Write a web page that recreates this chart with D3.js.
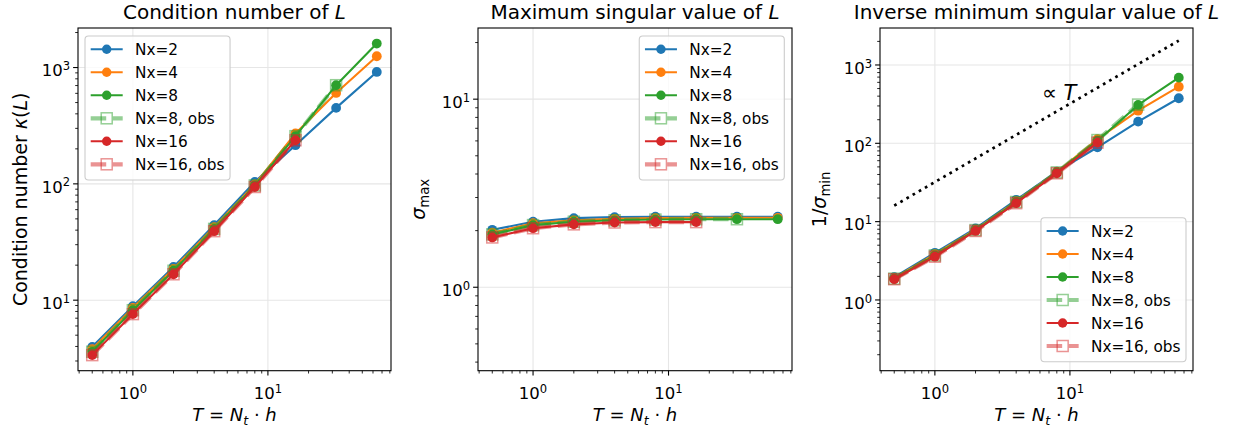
<!DOCTYPE html>
<html><head><meta charset="utf-8">
<script src="https://cdn.jsdelivr.net/npm/d3@7"></script>
<style>body{margin:0;background:#fff} svg{display:block} text{font-family:"DejaVu Sans",sans-serif;fill:#000}</style>
</head><body><svg id="c" width="1236" height="433"></svg>
<script>
// ---------------- data ----------------
const T = [0.5, 1, 2, 4, 8, 16, 32, 64];
const seriesLabels = ["Nx=2", "Nx=4", "Nx=8", "Nx=8, obs", "Nx=16", "Nx=16, obs"];
const seriesColors = ["#1f77b4", "#ff7f0e", "#2ca02c", "#2ca02c", "#d62728", "#d62728"];
const seriesIsObs  = [false, false, false, true, false, true];

// Panel 1: condition number kappa(L)
const kappaNx2     = [3.97, 8.88, 19.3, 44.2, 104, 215, 450, 916];
const kappaNx4     = [3.80, 8.60, 18.6, 42.5, 99, 271, 605, 1250];
const kappaNx8     = [3.60, 8.20, 17.9, 41.0, 97, 257, 705, 1607];
const kappaNx8obs  = [3.60, 8.20, 17.9, 41.0, 97, 257, 705];
const kappaNx16    = [3.37, 7.59, 16.7, 39.2, 94, 237];
const kappaNx16obs = [3.37, 7.59, 16.7, 39.2, 94, 237];

// Panel 2: sigma_max
const sigmaMaxNx2     = [2.02, 2.23, 2.33, 2.36, 2.37, 2.37, 2.37, 2.37];
const sigmaMaxNx4     = [1.95, 2.19, 2.27, 2.31, 2.33, 2.34, 2.34, 2.34];
const sigmaMaxNx8     = [1.91, 2.14, 2.23, 2.27, 2.29, 2.30, 2.30, 2.30];
const sigmaMaxNx8obs  = [1.91, 2.14, 2.23, 2.27, 2.29, 2.30, 2.30];
const sigmaMaxNx16    = [1.84, 2.06, 2.16, 2.21, 2.22, 2.22];
const sigmaMaxNx16obs = [1.84, 2.06, 2.16, 2.21, 2.22, 2.22];

// Panel 3: 1/sigma_min
const invMinNx2     = [1.95, 4.00, 8.2, 19.0, 43.5, 89, 189, 376];
const invMinNx4     = [1.90, 3.85, 7.9, 18.2, 43.0, 113, 261, 528];
const invMinNx8     = [1.87, 3.70, 7.8, 17.8, 42.5, 108, 309, 689];
const invMinNx8obs  = [1.87, 3.70, 7.8, 17.8, 42.5, 110, 312];
const invMinNx16    = [1.84, 3.57, 7.6, 17.2, 41.4, 102];
const invMinNx16obs = [1.84, 3.57, 7.6, 17.2, 41.4, 102];

// reference slope line (proportional to T)
const propLineT = [0.5, 64];
const propLineV = [16, 2048];
const propLabelT = 6.2, propLabelV = 360;

// axis limits set in the original for panels 2 and 3
const yLimSigma = [0.36, 23.9];
const yLimInv   = [0.125, 2965];

const titles = ["Condition number of ", "Maximum singular value of ", "Inverse minimum singular value of "];

// ---------------- layout ----------------
const svg = d3.select("#c");
const TOP = 28, BOT = 370.7;
const FONT = '"DejaVu Sans", sans-serif';
const TICKFS = 16.5, LEGFS = 15.3, TITLEFS = 20, LABFS = 19;

function logPad(vals) {
  const lo = Math.log10(d3.min(vals)), hi = Math.log10(d3.max(vals));
  const m = (hi - lo) * 0.05;
  return [Math.pow(10, lo - m), Math.pow(10, hi + m)];
}
const xDomain = logPad(T);

function rich(sel, parts, fs) {
  parts.forEach(p => {
    const ts = sel.append("tspan").text(p.t);
    if (p.it) ts.attr("font-style", "italic");
    if (p.sub) ts.attr("font-size", fs * 0.7).attr("dy", fs * 0.22);
    if (p.back) ts.attr("dy", -fs * 0.22);
  });
}

function drawPanel(cfg) {
  const g = svg.append("g");
  const x = d3.scaleLog().domain(xDomain).range([cfg.left, cfg.right]);
  const y = d3.scaleLog().domain(cfg.yDomain).range([BOT, TOP]);
  const [x0, x1] = x.domain(), [y0, y1] = y.domain();

  const decades = (a, b) => d3.range(Math.ceil(Math.log10(a) - 1e-9), Math.floor(Math.log10(b) + 1e-9) + 1);
  const minors = (a, b) => {
    const out = [];
    for (let k = Math.floor(Math.log10(a)) - 1; k <= Math.ceil(Math.log10(b)); k++)
      for (let m = 2; m <= 9; m++) { const v = m * Math.pow(10, k); if (v >= a * 0.999 && v <= b * 1.001) out.push(v); }
    return out;
  };
  const xMaj = decades(x0, x1), yMaj = decades(y0, y1);

  // grid
  const grid = g.append("g").attr("stroke", "#e6e6e6").attr("stroke-width", 1.1);
  xMaj.forEach(k => grid.append("line").attr("x1", x(10 ** k)).attr("x2", x(10 ** k)).attr("y1", TOP).attr("y2", BOT));
  yMaj.forEach(k => grid.append("line").attr("y1", y(10 ** k)).attr("y2", y(10 ** k)).attr("x1", cfg.left).attr("x2", cfg.right));

  // clip
  const cid = "clip" + cfg.id;
  svg.append("clipPath").attr("id", cid).append("rect")
    .attr("x", cfg.left).attr("y", TOP).attr("width", cfg.right - cfg.left).attr("height", BOT - TOP);
  const plot = g.append("g").attr("clip-path", `url(#${cid})`);

  if (cfg.prop) {
    plot.append("path")
      .attr("d", d3.line().x((d, i) => x(propLineT[i])).y(d => y(d))(propLineV))
      .attr("fill", "none").attr("stroke", "#000").attr("stroke-width", 2.7)
      .attr("stroke-dasharray", "2.7,4.4");
  }

  cfg.series.forEach((vals, si) => {
    const col = seriesColors[si];
    const obs = seriesIsObs[si];
    const pts = vals.map((v, i) => [T[i], v]);
    const line = d3.line().x(d => x(d[0])).y(d => y(d[1]));
    const sg = plot.append("g");
    sg.append("path").attr("d", line(pts)).attr("fill", "none")
      .attr("stroke", col).attr("stroke-width", obs ? 4.2 : 2.1)
      .attr("stroke-opacity", obs ? 0.5 : 1)
      .attr("stroke-linejoin", "round")
      .attr("stroke-dasharray", obs ? "15.5,6.7" : null);
    if (obs) {
      sg.selectAll("rect").data(pts).join("rect")
        .attr("x", d => x(d[0]) - 5.5).attr("y", d => y(d[1]) - 5.5)
        .attr("width", 11).attr("height", 11)
        .attr("fill", "none").attr("stroke", col).attr("stroke-width", 1.5).attr("stroke-opacity", 0.5);
    } else {
      sg.selectAll("circle").data(pts).join("circle")
        .attr("cx", d => x(d[0])).attr("cy", d => y(d[1])).attr("r", 4.9)
        .attr("fill", col);
    }
  });

  // spines
  g.append("rect").attr("x", cfg.left).attr("y", TOP).attr("width", cfg.right - cfg.left).attr("height", BOT - TOP)
    .attr("fill", "none").attr("stroke", "#000").attr("stroke-width", 1.1);

  // ticks
  const tk = g.append("g").attr("stroke", "#000");
  xMaj.forEach(k => tk.append("line").attr("x1", x(10 ** k)).attr("x2", x(10 ** k)).attr("y1", BOT).attr("y2", BOT + 4.9).attr("stroke-width", 1.1));
  minors(x0, x1).forEach(v => tk.append("line").attr("x1", x(v)).attr("x2", x(v)).attr("y1", BOT).attr("y2", BOT + 2.8).attr("stroke-width", 0.85));
  yMaj.forEach(k => tk.append("line").attr("y1", y(10 ** k)).attr("y2", y(10 ** k)).attr("x1", cfg.left).attr("x2", cfg.left - 4.9).attr("stroke-width", 1.1));
  minors(y0, y1).forEach(v => tk.append("line").attr("y1", y(v)).attr("y2", y(v)).attr("x1", cfg.left).attr("x2", cfg.left - 2.8).attr("stroke-width", 0.85));

  const supLabel = (sel, k) => {
    sel.append("tspan").text("10");
    sel.append("tspan").text(String(k)).attr("font-size", TICKFS * 0.7).attr("dy", -6.2);
  };
  xMaj.forEach(k => {
    const t = g.append("text").attr("x", x(10 ** k)).attr("y", BOT + 28.3).attr("text-anchor", "middle").attr("font-size", TICKFS);
    supLabel(t, k);
  });
  yMaj.forEach(k => {
    const t = g.append("text").attr("x", cfg.left - 8).attr("y", y(10 ** k) + 8.8).attr("text-anchor", "end").attr("font-size", TICKFS);
    supLabel(t, k);
  });

  // title
  const tt = g.append("text").attr("x", (cfg.left + cfg.right) / 2).attr("y", 19).attr("text-anchor", "middle").attr("font-size", TITLEFS);
  rich(tt, [{ t: titles[cfg.id] }, { t: "L", it: true }], TITLEFS);

  // x label
  const xl = g.append("text").attr("x", (cfg.left + cfg.right) / 2).attr("y", 421).attr("text-anchor", "middle").attr("font-size", 18);
  rich(xl, [{ t: "T", it: true }, { t: " = " }, { t: "N", it: true }, { t: "t", it: true, sub: true }, { t: " · ", back: true }, { t: "h", it: true }], 18);

  // y label
  const yl = g.append("text").attr("transform", `translate(${cfg.ylabX},${(TOP + BOT) / 2}) rotate(-90)`)
    .attr("text-anchor", "middle").attr("font-size", LABFS);
  rich(yl, cfg.ylab, LABFS);

  if (cfg.prop) {
    const pl = g.append("text").attr("x", x(propLabelT)).attr("y", y(propLabelV)).attr("font-size", 21);
    rich(pl, [{ t: "∝ " }, { t: "T", it: true }], 21);
  }

  // legend
  const lg = g.append("g");
  const rowH = 23, hl = 32, tp = 12.3, padL = 5.7, padR = 5.5;
  const texts = seriesLabels.map(s => {
    const t = lg.append("text").attr("font-size", LEGFS).text(s);
    return t;
  });
  const maxW = d3.max(texts.map(t => t.node().getComputedTextLength()));
  const W = padL + hl + tp + maxW + padR, H = 6 * rowH + 6;
  let bx, by;
  if (cfg.leg === "ul") { bx = cfg.left + 7; by = TOP + 8; }
  else if (cfg.leg === "ur") { bx = cfg.right - 7.7 - W; by = TOP + 8; }
  else { bx = cfg.right - 7 - W; by = BOT - 9 - H; }
  lg.insert("rect", ":first-child").attr("x", bx).attr("y", by).attr("width", W).attr("height", H)
    .attr("rx", 3.5).attr("fill", "#fff").attr("fill-opacity", 0.8).attr("stroke", "#cccccc").attr("stroke-width", 1.1);
  seriesLabels.forEach((s, i) => {
    const cy = by + 13.3 + i * rowH;
    const hx = bx + padL;
    const col = seriesColors[i];
    if (seriesIsObs[i]) {
      lg.append("line").attr("x1", hx).attr("x2", hx + hl).attr("y1", cy).attr("y2", cy)
        .attr("stroke", col).attr("stroke-width", 4.2).attr("stroke-opacity", 0.5).attr("stroke-dasharray", "15.5,6.7");
      lg.append("rect").attr("x", hx + hl / 2 - 5.5).attr("y", cy - 5.5).attr("width", 11).attr("height", 11)
        .attr("fill", "none").attr("stroke", col).attr("stroke-width", 1.5).attr("stroke-opacity", 0.5);
    } else {
      lg.append("line").attr("x1", hx).attr("x2", hx + hl).attr("y1", cy).attr("y2", cy)
        .attr("stroke", col).attr("stroke-width", 2.1);
      lg.append("circle").attr("cx", hx + hl / 2).attr("cy", cy).attr("r", 4.7).attr("fill", col);
    }
    texts[i].attr("x", hx + hl + tp).attr("y", cy + 5.6).raise();
  });
}

drawPanel({ id: 0, left: 78, right: 391,
  yDomain: logPad([].concat(kappaNx2, kappaNx4, kappaNx8, kappaNx8obs, kappaNx16, kappaNx16obs)),
  series: [kappaNx2, kappaNx4, kappaNx8, kappaNx8obs, kappaNx16, kappaNx16obs],
  ylab: [{ t: "Condition number " }, { t: "κ", it: true }, { t: "(" }, { t: "L", it: true }, { t: ")" }],
  ylabX: 27, leg: "ul" });
drawPanel({ id: 1, left: 478, right: 792, yDomain: yLimSigma,
  series: [sigmaMaxNx2, sigmaMaxNx4, sigmaMaxNx8, sigmaMaxNx8obs, sigmaMaxNx16, sigmaMaxNx16obs],
  ylab: [{ t: "σ", it: true }, { t: "max", sub: true }],
  ylabX: 425, leg: "ur" });
drawPanel({ id: 2, left: 880, right: 1193, yDomain: yLimInv,
  series: [invMinNx2, invMinNx4, invMinNx8, invMinNx8obs, invMinNx16, invMinNx16obs],
  ylab: [{ t: "1/" }, { t: "σ", it: true }, { t: "min", sub: true }],
  ylabX: 826, leg: "lr", prop: true });
</script></body></html>
